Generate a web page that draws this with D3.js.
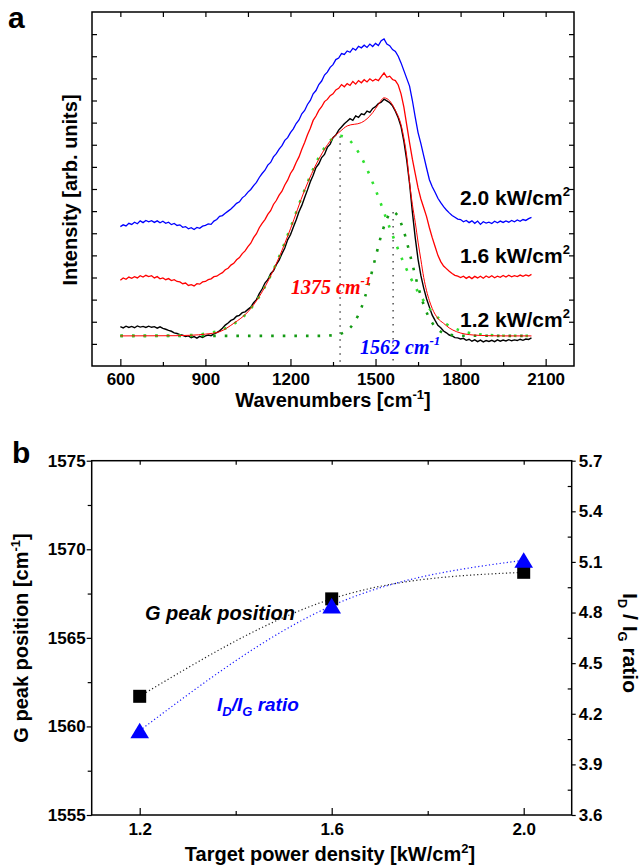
<!DOCTYPE html>
<html>
<head>
<meta charset="utf-8">
<script src="https://cdn.jsdelivr.net/npm/d3@7"></script>
<style>
  body { margin: 0; background: #fff; }
  text { font-family: "Liberation Sans", Arial, sans-serif; font-weight: bold; }
</style>
</head>
<body>
<svg id="chart" width="644" height="866"></svg>
<script>
// ---- panel a data: Raman spectra, 600..2050 cm-1 every 10 ----
const waveStart = 600, waveStep = 10;
const spec12 = [
  1.78, 1.72, 1.80, 1.74, 1.79, 1.73, 1.81, 1.76, 1.79, 1.74,
  1.80, 1.75, 1.78, 1.71, 1.77, 1.70, 1.66, 1.61, 1.57, 1.50,
  1.47, 1.42, 1.39, 1.33, 1.36, 1.28, 1.33, 1.26, 1.34, 1.29,
  1.36, 1.40, 1.37, 1.45, 1.51, 1.59, 1.71, 1.85, 1.94, 2.06,
  2.12, 2.25, 2.29, 2.41, 2.45, 2.56, 2.66, 2.86, 3.00, 3.27,
  3.48, 3.75, 3.90, 4.17, 4.30, 4.58, 4.78, 5.08, 5.33, 5.70,
  5.93, 6.27, 6.60, 6.97, 7.26, 7.62, 7.96, 8.33, 8.62, 8.97,
  9.14, 9.42, 9.56, 9.88, 10.03, 10.32, 10.44, 10.66, 10.80, 10.95,
  11.06, 11.18, 11.10, 11.30, 11.24, 11.40, 11.36, 11.52, 11.46, 11.64,
  11.72, 11.86, 11.92, 12.06, 11.98, 11.90, 11.76, 11.52, 11.22, 10.82,
  10.15, 9.30, 8.25, 6.95, 5.80, 4.82, 4.08, 3.52, 3.04, 2.66,
  2.30, 2.06, 1.84, 1.73, 1.58, 1.50, 1.40, 1.36, 1.28, 1.27,
  1.22, 1.25, 1.16, 1.21, 1.12, 1.18, 1.10, 1.17, 1.09, 1.15,
  1.11, 1.16, 1.10, 1.18, 1.12, 1.17, 1.13, 1.19, 1.14, 1.18,
  1.15, 1.21, 1.16, 1.22, 1.20, 1.27
];
const spec16 = [
  3.88, 3.98, 3.92, 4.02, 3.96, 4.04, 3.98, 4.08, 4.02, 4.10,
  4.04, 4.08, 3.98, 4.04, 3.94, 3.98, 3.90, 3.95, 3.86, 3.90,
  3.82, 3.80, 3.72, 3.75, 3.64, 3.68, 3.62, 3.72, 3.70, 3.80,
  3.82, 3.90, 3.94, 4.04, 4.06, 4.15, 4.22, 4.35, 4.42, 4.56,
  4.64, 4.80, 4.90, 5.08, 5.20, 5.40, 5.55, 5.80, 5.98, 6.25,
  6.45, 6.62, 6.85, 7.02, 7.30, 7.48, 7.72, 7.90, 8.18, 8.40,
  8.70, 8.90, 9.20, 9.45, 9.80, 10.10, 10.45, 10.75, 11.10, 11.30,
  11.55, 11.72, 11.95, 12.05, 12.22, 12.30, 12.48, 12.55, 12.72, 12.62,
  12.76, 12.68, 12.86, 12.74, 12.90, 12.80, 12.94, 12.84, 12.98, 12.88,
  12.96, 12.90, 13.08, 13.25, 13.05, 13.10, 12.95, 12.90, 12.70, 12.30,
  11.70, 10.90, 10.10, 9.35, 8.70, 8.05, 7.55, 7.15, 6.75, 6.25,
  5.80, 5.40, 5.00, 4.72, 4.52, 4.40, 4.28, 4.18, 4.10, 4.06,
  4.00, 4.06, 3.96, 4.04, 3.95, 4.05, 3.98, 4.06, 3.97, 4.07,
  4.00, 4.08, 3.99, 4.06, 4.01, 4.09, 4.02, 4.10, 4.03, 4.08,
  4.04, 4.11, 4.05, 4.12, 4.07, 4.14
];
const spec20 = [
  6.30, 6.38, 6.33, 6.45, 6.40, 6.50, 6.43, 6.56, 6.48, 6.58,
  6.52, 6.57, 6.49, 6.56, 6.47, 6.54, 6.45, 6.50, 6.39, 6.44,
  6.35, 6.38, 6.27, 6.30, 6.20, 6.25, 6.17, 6.26, 6.22, 6.32,
  6.36, 6.42, 6.40, 6.55, 6.62, 6.76, 6.80, 6.90, 7.00, 7.10,
  7.22, 7.35, 7.42, 7.60, 7.70, 7.86, 7.98, 8.15, 8.30, 8.52,
  8.70, 8.85, 9.08, 9.20, 9.45, 9.60, 9.80, 9.96, 10.20, 10.32,
  10.55, 10.72, 10.96, 11.12, 11.40, 11.55, 11.82, 12.00, 12.30, 12.45,
  12.72, 12.88, 13.15, 13.28, 13.50, 13.62, 13.85, 13.92, 14.12, 14.08,
  14.24, 14.18, 14.36, 14.28, 14.45, 14.38, 14.50, 14.40, 14.55, 14.44,
  14.58, 14.48, 14.70, 14.78, 14.55, 14.48, 14.30, 14.22, 14.00, 13.70,
  13.35, 13.00, 12.65, 12.00, 11.25, 10.55, 10.05, 9.50, 8.95, 8.42,
  8.10, 7.85, 7.58, 7.38, 7.20, 7.05, 6.92, 6.80, 6.72, 6.64,
  6.62, 6.52, 6.58, 6.48, 6.56, 6.45, 6.55, 6.40, 6.52, 6.46,
  6.50, 6.44, 6.54, 6.47, 6.55, 6.49, 6.56, 6.50, 6.58, 6.52,
  6.60, 6.54, 6.62, 6.58, 6.66, 6.72
];
// fitted envelope (red) and the two fitted bands (green dotted)
const fitWave = [600, 800, 850, 900, 950, 1000, 1050, 1100, 1150, 1200, 1250, 1300, 1350, 1375, 1400,
  1450, 1490, 1510, 1530, 1550, 1570, 1590, 1600, 1610, 1620, 1630, 1640, 1650, 1660, 1670,
  1680, 1690, 1700, 1720, 1740, 1760, 1786, 1845, 1900, 1950, 2050];
const fitVal = [1.36, 1.37, 1.39, 1.44, 1.55, 1.93, 2.45, 3.35, 4.62, 6.20, 7.95, 9.35, 10.32, 10.60, 10.85,
  11.00, 11.45, 11.82, 12.12, 11.98, 11.55, 10.90, 10.30, 9.50, 8.30, 7.30, 6.50, 5.60, 4.80, 4.00,
  3.40, 2.95, 2.60, 2.15, 1.93, 1.72, 1.55, 1.40, 1.37, 1.36, 1.36];
const dWave = [600, 800, 850, 900, 950, 1000, 1050, 1100, 1150, 1200, 1250, 1300, 1350, 1375,
  1400, 1450, 1500, 1550, 1600, 1650, 1700, 1750, 1800, 1850, 1900, 1950, 2050];
const dVal = [1.36, 1.37, 1.40, 1.46, 1.60, 1.90, 2.44, 3.35, 4.64, 6.25, 7.97, 9.43, 10.29, 10.40,
  10.29, 9.43, 7.97, 6.25, 4.64, 3.35, 2.44, 1.90, 1.60, 1.46, 1.40, 1.37, 1.36];
const gWave = [600, 1300, 1350, 1375, 1400, 1425, 1450, 1475, 1500, 1525, 1550, 1562, 1575, 1600,
  1625, 1650, 1675, 1700, 1725, 1750, 1800, 2050];
const gVal = [1.36, 1.36, 1.39, 1.45, 1.61, 1.97, 2.63, 3.65, 4.91, 6.12, 6.87, 6.96, 6.85, 6.08,
  4.86, 3.60, 2.59, 1.95, 1.60, 1.44, 1.37, 1.36];
const peakPos = [1375, 1562];
const peakTop = [10.38, 6.96];
const waveTicks = [600, 900, 1200, 1500, 1800, 2100];
const waveMinor = [750, 1050, 1350, 1650, 1950];
const intTicks = [1, 2, 3, 4, 5, 6, 7, 8, 9, 10, 11, 12, 13, 14, 15];

// ---- panel b data ----
const power = [1.2, 1.6, 2.0];
const gPeak = [1561.7, 1567.2, 1568.7];
const idIg = [4.10, 4.84, 5.11];
const gTicks = [1555, 1560, 1565, 1570, 1575];
const gMinor = [1557.5, 1562.5, 1567.5, 1572.5];
const rTicks = [3.6, 3.9, 4.2, 4.5, 4.8, 5.1, 5.4, 5.7];
const rMinor = [3.75, 4.05, 4.35, 4.65, 4.95, 5.25, 5.55];
const pTicks = [1.2, 1.6, 2.0];
const pMinor = [1.4, 1.8];

const svg = d3.select("#chart");
const FONT = "Liberation Sans, Arial, sans-serif";

function styleAxis(g, size) {
  g.attr("font-size", size).attr("font-family", FONT).attr("font-weight", "bold");
  g.select(".domain").remove();
  g.selectAll("line").attr("stroke-width", 1.2);
}

// ================= panel a =================
const xA = d3.scaleLinear().domain([500, 2200]).range([92, 574]);
const yA = d3.scaleLinear().domain([0, 16]).range([366, 12]);

svg.append("g").attr("transform", "translate(0,366)")
  .call(d3.axisBottom(xA).tickValues(waveTicks).tickSize(-7).tickPadding(7).tickFormat(d3.format("d")))
  .call(g => styleAxis(g, 17));
svg.append("g").attr("transform", "translate(0,366)")
  .call(d3.axisBottom(xA).tickValues(waveMinor).tickSize(-4).tickFormat(""))
  .call(g => styleAxis(g, 17));
svg.append("g").attr("transform", "translate(0,12)")
  .call(d3.axisTop(xA).tickValues(waveTicks.concat(waveMinor)).tickSize(-5).tickFormat(""))
  .call(g => styleAxis(g, 17));
svg.append("g").attr("transform", "translate(92,0)")
  .call(d3.axisLeft(yA).tickValues(intTicks).tickSize(-5).tickFormat(""))
  .call(g => styleAxis(g, 17));
svg.append("g").attr("transform", "translate(574,0)")
  .call(d3.axisRight(yA).tickValues(intTicks).tickSize(-5).tickFormat(""))
  .call(g => styleAxis(g, 17));

const specLine = d3.line().x((d, i) => xA(waveStart + i * waveStep)).y(d => yA(d));
const pairLine = d3.line().x(d => xA(d[0])).y(d => yA(d[1])).curve(d3.curveMonotoneX);

// vertical dotted markers for the band centres
peakPos.forEach((p, i) => {
  svg.append("line")
    .attr("x1", xA(p)).attr("x2", xA(p))
    .attr("y1", yA(peakTop[i])).attr("y2", yA(0))
    .attr("stroke", "#444").attr("stroke-width", 1.4).attr("stroke-dasharray", "1.4,5.6");
});

svg.append("path").datum(spec20).attr("d", specLine)
  .attr("fill", "none").attr("stroke", "#0000ff").attr("stroke-width", 1.3);
svg.append("path").datum(spec16).attr("d", specLine)
  .attr("fill", "none").attr("stroke", "#ff0000").attr("stroke-width", 1.3);
svg.append("path").datum(spec12).attr("d", specLine)
  .attr("fill", "none").attr("stroke", "#000").attr("stroke-width", 1.4);

svg.append("path").datum(d3.zip(gWave, gVal)).attr("d", pairLine)
  .attr("fill", "none").attr("stroke", "#139a13").attr("stroke-width", 2.6).attr("stroke-dasharray", "2.6,9");
svg.append("path").datum(d3.zip(dWave, dVal)).attr("d", pairLine)
  .attr("fill", "none").attr("stroke", "#2fe02f").attr("stroke-width", 2.6).attr("stroke-dasharray", "2.6,9");
svg.append("path").datum(d3.zip(fitWave, fitVal)).attr("d", pairLine)
  .attr("fill", "none").attr("stroke", "#ff0000").attr("stroke-width", 1);

svg.append("rect").attr("x", 92).attr("y", 12).attr("width", 482).attr("height", 354)
  .attr("fill", "none").attr("stroke", "#000").attr("stroke-width", 1.5);

// power density labels
const powerLabels = [["2.0", 205], ["1.6", 263], ["1.2", 327]];
powerLabels.forEach(([t, y]) => {
  const tx = svg.append("text").attr("x", 460).attr("y", y).attr("font-size", 21);
  tx.append("tspan").text(t + " kW/cm");
  tx.append("tspan").attr("font-size", 13).attr("dy", -9).text("2");
});

function peakLabel(x, y, num, color) {
  const tx = svg.append("text").attr("x", x).attr("y", y).attr("font-size", 20)
    .attr("font-style", "italic").attr("fill", color)
    .style("font-family", "Liberation Serif, Times New Roman, serif");
  tx.append("tspan").text(num + " cm");
  tx.append("tspan").attr("font-size", 13).attr("dy", -9).text("-1");
}
peakLabel(291, 294, "1375", "#ff0000");
peakLabel(360, 354, "1562", "#0000ff");

const xTitleA = svg.append("text").attr("x", 333).attr("y", 407).attr("text-anchor", "middle").attr("font-size", 20);
xTitleA.append("tspan").text("Wavenumbers [cm");
xTitleA.append("tspan").attr("font-size", 13).attr("dy", -8).text("-1");
xTitleA.append("tspan").attr("dy", 8).text("]");

svg.append("text").attr("transform", "translate(77,190) rotate(-90)")
  .attr("text-anchor", "middle").attr("font-size", 20).text("Intensity [arb. units]");

svg.append("text").attr("x", 8).attr("y", 28).attr("font-size", 30).text("a");

// ================= panel b =================
const xB = d3.scaleLinear().domain([1.1, 2.1]).range([91.7, 571.7]);
const yB = d3.scaleLinear().domain([1555, 1575]).range([815, 460.7]);
const yR = d3.scaleLinear().domain([3.6, 5.7]).range([815, 460.7]);

svg.append("g").attr("transform", "translate(91.7,0)")
  .call(d3.axisLeft(yB).tickValues(gTicks).tickSize(5).tickPadding(1).tickFormat(d3.format("d")))
  .call(g => styleAxis(g, 17));
svg.append("g").attr("transform", "translate(91.7,0)")
  .call(d3.axisLeft(yB).tickValues(gMinor).tickSize(4).tickFormat(""))
  .call(g => styleAxis(g, 17));
svg.append("g").attr("transform", "translate(571.7,0)")
  .call(d3.axisRight(yR).tickValues(rTicks).tickSize(4).tickPadding(3).tickFormat(d3.format(".1f")))
  .call(g => styleAxis(g, 17));
svg.append("g").attr("transform", "translate(571.7,0)")
  .call(d3.axisRight(yR).tickValues(rMinor).tickSize(-4).tickFormat(""))
  .call(g => styleAxis(g, 17));
svg.append("g").attr("transform", "translate(0,815)")
  .call(d3.axisBottom(xB).tickValues(pTicks).tickSize(-7).tickPadding(8).tickFormat(d3.format(".1f")))
  .call(g => styleAxis(g, 17));
svg.append("g").attr("transform", "translate(0,815)")
  .call(d3.axisBottom(xB).tickValues(pMinor).tickSize(-4).tickFormat(""))
  .call(g => styleAxis(g, 17));
svg.append("g").attr("transform", "translate(0,460.7)")
  .call(d3.axisTop(xB).tickValues(pTicks.concat(pMinor)).tickSize(-4).tickFormat(""))
  .call(g => styleAxis(g, 17));

svg.append("rect").attr("x", 91.7).attr("y", 460.7).attr("width", 480).attr("height", 354.3)
  .attr("fill", "none").attr("stroke", "#000").attr("stroke-width", 1.5);

const gLine = d3.line().x(d => xB(d[0])).y(d => yB(d[1])).curve(d3.curveNatural);
const rLine = d3.line().x(d => xB(d[0])).y(d => yR(d[1])).curve(d3.curveNatural);

svg.append("path").datum(d3.zip(power, gPeak)).attr("d", gLine)
  .attr("fill", "none").attr("stroke", "#222").attr("stroke-width", 1.2).attr("stroke-dasharray", "1.2,2.4");
svg.append("path").datum(d3.zip(power, idIg)).attr("d", rLine)
  .attr("fill", "none").attr("stroke", "#1a1aff").attr("stroke-width", 1.2).attr("stroke-dasharray", "1.2,2.4");

svg.selectAll("rect.sq").data(d3.zip(power, gPeak)).enter().append("rect")
  .attr("class", "sq")
  .attr("x", d => xB(d[0]) - 6.5).attr("y", d => yB(d[1]) - 6.5)
  .attr("width", 13).attr("height", 13).attr("fill", "#000");

svg.selectAll("path.tri").data(d3.zip(power, idIg)).enter().append("path")
  .attr("class", "tri")
  .attr("transform", d => `translate(${xB(d[0])},${yR(d[1])})`)
  .attr("d", "M0,-8L9.3,7.6L-9.3,7.6Z").attr("fill", "#0000ff");

svg.append("text").attr("x", 145).attr("y", 620).attr("font-size", 20)
  .attr("font-style", "italic").text("G peak position");

const ratio = svg.append("text").attr("x", 217).attr("y", 711).attr("font-size", 19)
  .attr("font-style", "italic").attr("fill", "#0000ff");
ratio.append("tspan").text("I");
ratio.append("tspan").attr("font-size", 13).attr("dy", 5).text("D");
ratio.append("tspan").attr("dy", -5).text("/I");
ratio.append("tspan").attr("font-size", 13).attr("dy", 5).text("G");
ratio.append("tspan").attr("dy", -5).text(" ratio");

const yTitleB = svg.append("text").attr("transform", "translate(28,638) rotate(-90)")
  .attr("text-anchor", "middle").attr("font-size", 20);
yTitleB.append("tspan").text("G peak position [cm");
yTitleB.append("tspan").attr("font-size", 13).attr("dy", -8).text("-1");
yTitleB.append("tspan").attr("dy", 8).text("]");

const rTitle = svg.append("text").attr("transform", "translate(623,643) rotate(90)")
  .attr("text-anchor", "middle").attr("font-size", 21);
rTitle.append("tspan").text("I");
rTitle.append("tspan").attr("font-size", 13).attr("dy", 5).text("D");
rTitle.append("tspan").attr("dy", -5).text(" / I");
rTitle.append("tspan").attr("font-size", 13).attr("dy", 5).text("G");
rTitle.append("tspan").attr("dy", -5).text(" ratio");

const xTitleB = svg.append("text").attr("x", 330).attr("y", 861).attr("text-anchor", "middle").attr("font-size", 20);
xTitleB.append("tspan").text("Target power density [kW/cm");
xTitleB.append("tspan").attr("font-size", 13).attr("dy", -8).text("2");
xTitleB.append("tspan").attr("dy", 8).text("]");

svg.append("text").attr("x", 12).attr("y", 463).attr("font-size", 30).text("b");
</script>
</body>
</html>
